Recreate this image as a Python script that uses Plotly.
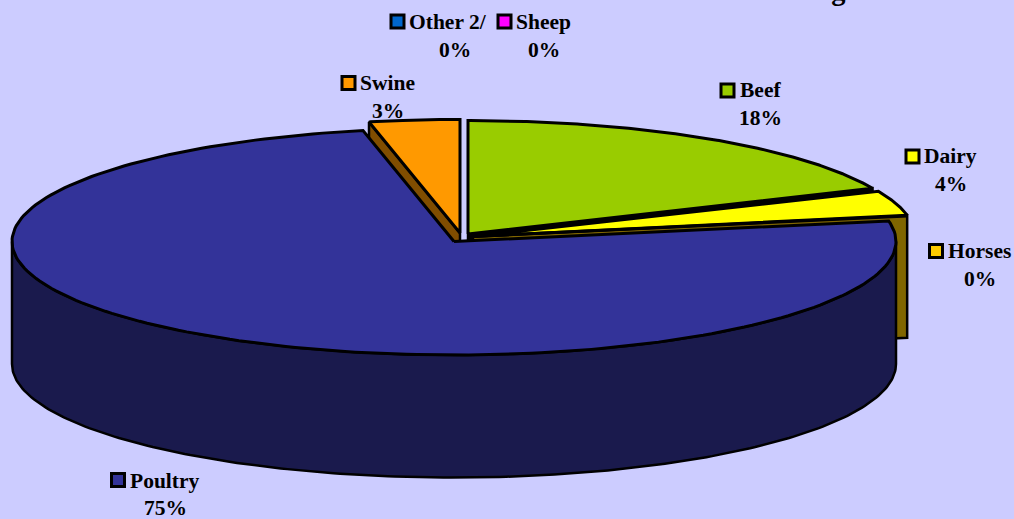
import numpy as np
import plotly.graph_objects as go

title = "Kansas FY 1996 Confined Feed Water - Cost Share Obligated"
categories = ["Beef", "Dairy", "Horses", "Other 2/", "Poultry", "Sheep", "Swine"]
values = [18.4, 3.6, 0.1, 0.0, 74.6, 0.0, 3.3]
pct_labels = ["18%", "4%", "0%", "0%", "75%", "0%", "3%"]
top_colors = ["#99CC00", "#FFFF00", "#FFCC00", "#0066CC", "#333399", "#FF00FF", "#FF9900"]
side_colors = ["#000000", "#806600", "#806600", "#003366", "#1A1A4D", "#800080", "#804D00"]

# layout of the drawing (pixels of the 1014x519 page)
RX, RY, DEPTH = 442, 113.5, 122.5
centers = {"Beef": (468, 234), "Dairy": (473, 236.5), "Horses": (473, 236.5),
           "Other 2/": (454, 241.5), "Poultry": (454, 241.5), "Sheep": (454, 241.5), "Swine": (460, 233)}
swatch_xy = {"Other 2/": (397.5, 21.5), "Sheep": (504.5, 21.5), "Swine": (348.5, 83), "Beef": (727.5, 90.5),
             "Dairy": (912.5, 156.5), "Horses": (936, 251), "Poultry": (118, 480)}
name_xy = {"Other 2/": (407, 22), "Sheep": (514, 22), "Swine": (358, 83), "Beef": (738, 90),
           "Dairy": (922, 156), "Horses": (946, 251), "Poultry": (128, 481)}
pct_xy = {"Other 2/": (455, 50), "Sheep": (544, 50), "Swine": (388, 111), "Beef": (760, 118),
          "Dairy": (951, 184), "Horses": (980, 279), "Poultry": (165, 508)}

FONT = "Liberation Serif, Times New Roman, serif"
fig = go.Figure()


def arc(c, a0, a1, n=200, dy=0):
    t = np.radians(np.linspace(a0, a1, n))
    return c[0] + RX * np.sin(t), c[1] + dy - RY * np.cos(t)


def poly(xs, ys, color, width=3):
    fig.add_trace(go.Scatter(x=list(xs), y=list(ys), mode="lines", fill="toself", fillcolor=color,
                             line=dict(color="black", width=width), hoverinfo="skip", showlegend=False))


cum = np.concatenate([[0], np.cumsum(values)]) / sum(values) * 360
span = {c: (cum[i], cum[i + 1]) for i, c in enumerate(categories)}
idx = {c: i for i, c in enumerate(categories)}


def end_face(cat, ang):
    c = centers[cat]
    ox, oy = arc(c, ang, ang, 1)
    poly([c[0], ox[0], ox[0], c[0], c[0]], [c[1], oy[0], oy[0] + DEPTH, c[1] + DEPTH, c[1]],
         side_colors[idx[cat]], width=2.5)


def top(cat):
    c = centers[cat]
    ax, ay = arc(c, *span[cat])
    poly([c[0], *ax, c[0]], [c[1], *ay, c[1]], top_colors[idx[cat]])


# back to front
end_face("Swine", span["Swine"][0])
top("Swine")
end_face("Beef", span["Beef"][1])
top("Beef")
end_face("Dairy", span["Dairy"][1])
top("Dairy")
top("Horses")

pc = centers["Poultry"]
ux, uy = arc(pc, 90, 270)
lx, ly = arc(pc, 270, 90, dy=DEPTH)
poly([*ux, *lx, ux[0]], [*uy, *ly, uy[0]], side_colors[idx["Poultry"]], width=2.5)
top("Poultry")

# legend keys and labels
for c in categories:
    fig.add_trace(go.Scatter(x=[swatch_xy[c][0]], y=[swatch_xy[c][1]], mode="markers",
                             marker=dict(symbol="square", size=13, color=top_colors[idx[c]],
                                         line=dict(color="black", width=3)),
                             hoverinfo="skip", showlegend=False))
    fig.add_annotation(x=name_xy[c][0], y=name_xy[c][1], text="<b>" + c + "</b>", showarrow=False,
                       xanchor="left", yanchor="middle", font=dict(family=FONT, size=21.5, color="black"))
    fig.add_annotation(x=pct_xy[c][0], y=pct_xy[c][1], text="<b>" + pct_labels[idx[c]] + "</b>", showarrow=False,
                       xanchor="center", yanchor="middle", font=dict(family=FONT, size=21.5, color="black"))

fig.add_annotation(xref="paper", yref="paper", x=0.516, y=1, yanchor="bottom", xanchor="center", yshift=-8,
                   text="<b>" + title + "</b>", showarrow=False,
                   font=dict(family=FONT, size=28.5, color="black"))

fig.update_layout(width=1014, height=519, margin=dict(l=0, r=0, t=0, b=0), paper_bgcolor="#CCCCFF",
                  plot_bgcolor="#CCCCFF", showlegend=False,
                  xaxis=dict(range=[0, 1014], visible=False, fixedrange=True),
                  yaxis=dict(range=[519, 0], visible=False, fixedrange=True))
fig.write_html("out.html", config={"displayModeBar": False},
               post_script="document.body.style.margin='0';document.body.style.overflow='hidden';")
